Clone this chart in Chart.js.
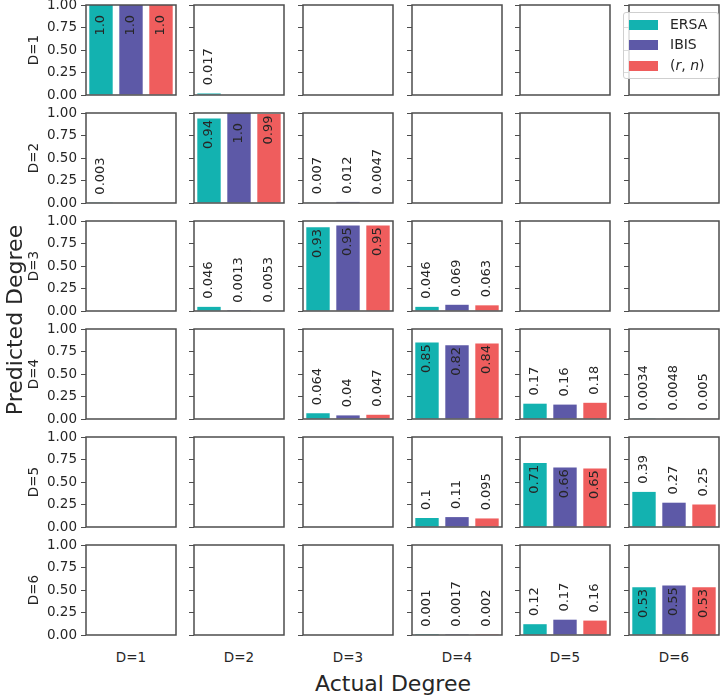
<!DOCTYPE html>
<html>
<head>
<meta charset="utf-8">
<script src="https://cdn.jsdelivr.net/npm/chart.js@4.4.0/dist/chart.umd.min.js"></script>
<style>
  body { margin: 0; background: #fff; }
  #fig { position: relative; width: 720px; height: 697px; overflow: hidden; font-family: "DejaVu Sans", sans-serif; color: #262626; }
  #fig canvas { position: absolute; }
  .lbl { position: absolute; white-space: nowrap; transform: translate(-50%, -50%); }
  .rot { transform: translate(-50%, -50%) rotate(-90deg); }
  #legend { position: absolute; left: 623px; top: 12px; width: 94px; height: 65px; border: 1px solid #cfcfcf; border-radius: 3px; background: rgba(255,255,255,0.8); z-index: 5; }
  .item { position: absolute; left: 0; width: 94px; height: 21px; line-height: 21px; font-size: 14px; white-space: nowrap; }
  .sw { position: absolute; left: 5px; top: 6px; width: 29px; height: 10px; }
  .txt { position: absolute; left: 46px; }
</style>
</head>
<body>
<div id="fig"></div>
<script>
const rowLabels = ["D=1", "D=2", "D=3", "D=4", "D=5", "D=6"];
const colLabels = ["D=1", "D=2", "D=3", "D=4", "D=5", "D=6"];
const seriesNames = ["ERSA", "IBIS", "(r, n)"];
const seriesColors = ["#13b2b0", "#5d59a7", "#ef5d5d"];
const yTicks = [0, 0.25, 0.5, 0.75, 1];

// [predicted row][actual column], null where nothing is shown
const ersa = [
  [1.0, 0.017, null, null, null, null],
  [0.003, 0.94, 0.007, null, null, null],
  [null, 0.046, 0.93, 0.046, null, null],
  [null, null, 0.064, 0.85, 0.17, 0.0034],
  [null, null, null, 0.1, 0.71, 0.39],
  [null, null, null, 0.001, 0.12, 0.53]
];
const ibis = [
  [1.0, null, null, null, null, null],
  [null, 1.0, 0.012, null, null, null],
  [null, 0.0013, 0.95, 0.069, null, null],
  [null, null, 0.04, 0.82, 0.16, 0.0048],
  [null, null, null, 0.11, 0.66, 0.27],
  [null, null, null, 0.0017, 0.17, 0.55]
];
const rn = [
  [1.0, null, null, null, null, null],
  [null, 0.99, 0.0047, null, null, null],
  [null, 0.0053, 0.95, 0.063, null, null],
  [null, null, 0.047, 0.84, 0.18, 0.005],
  [null, null, null, 0.095, 0.65, 0.25],
  [null, null, null, 0.002, 0.16, 0.53]
];

const FONT = "DejaVu Sans";
const colLeft = [86, 194, 303, 412, 520, 629];
const rowTop = [5, 113, 221, 329, 437, 545];
const cellW = 90, cellH = 90;
// room for the y tick labels (half line height + tick padding)
const padTop = 13, padBottom = 13, padRight = 2;

const fig = document.getElementById("fig");

// box around each plot area
const framePlugin = {
  id: "frame",
  afterDraw(chart) {
    const { ctx, chartArea: a } = chart;
    ctx.save();
    ctx.strokeStyle = "#4d4d4d";
    ctx.lineWidth = 1.5;
    ctx.strokeRect(a.left, a.top, a.right - a.left, a.bottom - a.top);
    ctx.restore();
  }
};

// rotated value labels: inside the bar when tall, above it otherwise
const valuePlugin = {
  id: "values",
  afterDatasetsDraw(chart) {
    const { ctx } = chart;
    const yScale = chart.scales.y;
    const data = chart.data.datasets[0].data;
    chart.getDatasetMeta(0).data.forEach((bar, i) => {
      const v = data[i];
      if (v == null) return;
      const text = Number.isInteger(v) ? v.toFixed(1) : String(v);
      const y = v > 0.5 ? yScale.getPixelForValue(v - 0.34) : yScale.getPixelForValue(v + 0.09);
      ctx.save();
      ctx.translate(bar.x, y);
      ctx.rotate(-Math.PI / 2);
      ctx.font = "13px '" + FONT + "'";
      ctx.fillStyle = "#262626";
      ctx.textAlign = "left";
      ctx.textBaseline = "middle";
      ctx.fillText(text, 0, 0);
      ctx.restore();
    });
  }
};

function addLabel(text, x, y, size, rotated) {
  const d = document.createElement("div");
  d.className = "lbl" + (rotated ? " rot" : "");
  d.style.left = x + "px";
  d.style.top = y + "px";
  d.style.fontSize = size + "px";
  d.textContent = text;
  fig.appendChild(d);
}

for (let r = 0; r < 6; r++) {
  for (let c = 0; c < 6; c++) {
    const axisW = c === 0 ? 86 : 8;
    const canvas = document.createElement("canvas");
    canvas.width = axisW + cellW + padRight;
    canvas.height = padTop + cellH + padBottom;
    canvas.style.left = (colLeft[c] - axisW) + "px";
    canvas.style.top = (rowTop[r] - padTop) + "px";
    fig.appendChild(canvas);

    new Chart(canvas, {
      type: "bar",
      data: {
        labels: seriesNames,
        datasets: [{
          data: [ersa[r][c], ibis[r][c], rn[r][c]],
          backgroundColor: seriesColors,
          barPercentage: 0.78,
          categoryPercentage: 1.0
        }]
      },
      options: {
        responsive: false,
        animation: false,
        layout: { padding: { top: padTop, bottom: padBottom, right: padRight, left: 0 } },
        plugins: { legend: { display: false }, tooltip: { enabled: false } },
        scales: {
          x: { display: false },
          y: {
            min: 0,
            max: 1,
            afterFit: (s) => { s.width = axisW; },
            afterBuildTicks: (s) => { s.ticks = yTicks.map((v) => ({ value: v })); },
            border: { display: false },
            grid: { drawOnChartArea: false, drawTicks: true, tickLength: 5, color: "#4d4d4d", lineWidth: 1 },
            ticks: {
              display: c === 0,
              padding: 4,
              color: "#262626",
              font: { family: FONT, size: 13.5 },
              callback: (v) => Number(v).toFixed(2)
            }
          }
        }
      },
      plugins: [framePlugin, valuePlugin]
    });
  }
}

rowLabels.forEach((t, r) => addLabel(t, 33, rowTop[r] + cellH / 2, 13.5, true));
colLabels.forEach((t, c) => addLabel(t, colLeft[c] + cellW / 2, 657, 13.5, false));
addLabel("Actual Degree", 393, 683, 22, false);
addLabel("Predicted Degree", 14, 320, 22, true);

// legend in the top-right panel
const legend = document.createElement("div");
legend.id = "legend";
seriesNames.forEach((name, i) => {
  const item = document.createElement("div");
  item.className = "item";
  item.style.top = (0.5 + i * 20.5) + "px";
  item.innerHTML = '<span class="sw" style="background:' + seriesColors[i] + '"></span>' +
    '<span class="txt">' + name.replace(/\b([a-z])\b/g, "<i>$1</i>") + "</span>";
  legend.appendChild(item);
});
fig.appendChild(legend);
</script>
</body>
</html>
